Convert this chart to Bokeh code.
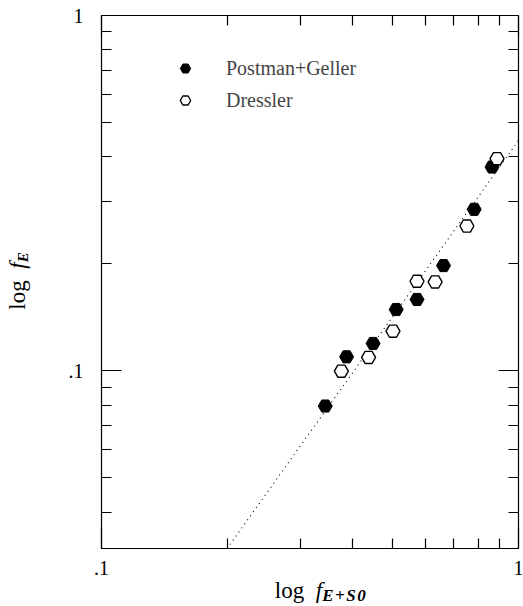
from bokeh.plotting import figure
from bokeh.models import (Range1d, FixedTicker, LogAxis, CustomJSTickFormatter,
                          Legend, LegendItem, Div)
from bokeh.layouts import row, column
from bokeh.embed import file_html
from bokeh.resources import INLINE

# ---- data ----
pg_x = [0.344, 0.387, 0.448, 0.509, 0.571, 0.661, 0.783, 0.864]
pg_y = [0.0796, 0.1095, 0.1194, 0.1488, 0.1588, 0.1978, 0.2848, 0.3746]
dr_x = [0.376, 0.437, 0.500, 0.571, 0.631, 0.752, 0.888]
dr_y = [0.0998, 0.1091, 0.1293, 0.1787, 0.1779, 0.2556, 0.3955]
fit_x = [0.2, 1.0]
fit_y = [0.0316, 0.445]

x_major = [0.1, 1.0]
y_major = [0.1, 1.0]
tick_labels = [".1", "1"]
x_minor = [0.2, 0.3, 0.4, 0.5, 0.6, 0.7, 0.8, 0.9]
y_minor = [0.04, 0.05, 0.06, 0.07, 0.08, 0.09, 0.2, 0.3, 0.4, 0.5, 0.6, 0.7, 0.8, 0.9]
series_names = ["Postman+Geller", "Dressler"]
x_title = ("log", "f", "E+S0")
y_title = ("log", "f", "E")

FONT = "Liberation Serif"
YLAB_W = 40
P_H = 584

p = figure(width=523 - YLAB_W, height=P_H, x_axis_type="log", y_axis_type="log",
           x_range=Range1d(0.1, 1.0), y_range=Range1d(10 ** -1.5, 1.0),
           output_backend="svg", toolbar_location=None,
           min_border_left=61, min_border_right=5, min_border_top=15, min_border_bottom=36)
p.grid.visible = False
p.outline_line_color = "black"
p.outline_line_width = 1.2
p.background_fill_color = "white"
p.border_fill_color = "white"

label_fmt = CustomJSTickFormatter(args=dict(vals=x_major, labs=tick_labels), code="""
let best = 0; let d = Infinity;
for (let i = 0; i < vals.length; i++) {
  const dd = Math.abs(Math.log10(vals[i]) - Math.log10(tick));
  if (dd < d) { d = dd; best = i; }
}
return labs[best];
""")
blank_fmt = CustomJSTickFormatter(code="return '';")

def style_axis(ax, major, minor, fmt, show_labels):
    ax.ticker = FixedTicker(ticks=major, minor_ticks=minor)
    ax.formatter = fmt
    ax.major_tick_in = 20
    ax.major_tick_out = 0
    ax.minor_tick_in = 10
    ax.minor_tick_out = 0
    ax.axis_line_color = "black"
    ax.major_tick_line_color = "black"
    ax.minor_tick_line_color = "black"
    ax.major_tick_line_width = 1.2
    ax.minor_tick_line_width = 1.2
    ax.major_label_text_font = FONT
    ax.major_label_text_color = "black"
    if show_labels:
        ax.major_label_text_font_size = "20px"
    else:
        ax.major_label_text_font_size = "0px"
        ax.major_label_standoff = 0

style_axis(p.xaxis[0], x_major, x_minor, label_fmt, True)
style_axis(p.yaxis[0], y_major, y_minor, label_fmt, True)
p.xaxis[0].major_label_standoff = 12
p.yaxis[0].major_label_standoff = 18

top_ax = LogAxis()
right_ax = LogAxis()
style_axis(top_ax, x_major, x_minor, blank_fmt, False)
style_axis(right_ax, y_major, y_minor, blank_fmt, False)
p.add_layout(top_ax, "above")
p.add_layout(right_ax, "right")

# fit line
p.line(fit_x, fit_y, line_color="black", line_width=1.1, line_dash="1 4")

pg = p.scatter(pg_x, pg_y, marker="hex", size=14, fill_color="black",
               line_color="black", line_width=1)
dr = p.scatter(dr_x, dr_y, marker="hex", size=14, fill_color="white",
               line_color="black", line_width=1.4)

legend = Legend(items=[LegendItem(label=series_names[0], renderers=[pg]),
                       LegendItem(label=series_names[1], renderers=[dr])],
                location=(71, 435), background_fill_alpha=0, border_line_alpha=0,
                glyph_width=26, glyph_height=26, spacing=6, padding=0, margin=0,
                label_standoff=28, label_text_font=FONT, label_text_font_size="20px",
                label_height=26)
p.add_layout(legend, "center")

# axis titles (HTML, so the subscripts can be styled)
def title_html(parts, sub_size, sub_spacing, box_h, extra):
    main, fsym, sub = parts
    return (f'<div style="position:relative;width:100%;height:{box_h}px;overflow:visible;">'
            f'<span style="position:absolute;{extra};white-space:nowrap;'
            f'font-family:\'{FONT}\';font-size:23px;color:black;line-height:23px;">'
            f'{main}&nbsp;&nbsp;<i>{fsym}</i>'
            f'<sub style="font-size:{sub_size}px;font-weight:bold;font-style:italic;'
            f'letter-spacing:{sub_spacing}px;vertical-align:-3px;line-height:0;">{sub}</sub>'
            f'</span></div>')

ylab = Div(width=YLAB_W, height=P_H, margin=0,
           text=title_html(y_title, 15, 0, P_H,
                           "left:17px;top:281px;transform:translate(-50%,-50%) rotate(-90deg)"))
xlab = Div(width=523, height=606 - P_H, margin=0,
           text=title_html(x_title, 17, 1.5, 606 - P_H,
                           "left:321px;top:6px;transform:translate(-50%,-50%)"))

layout = column(row(ylab, p, spacing=0), xlab, spacing=0)

open("out.html", "w").write(file_html(layout, INLINE))
